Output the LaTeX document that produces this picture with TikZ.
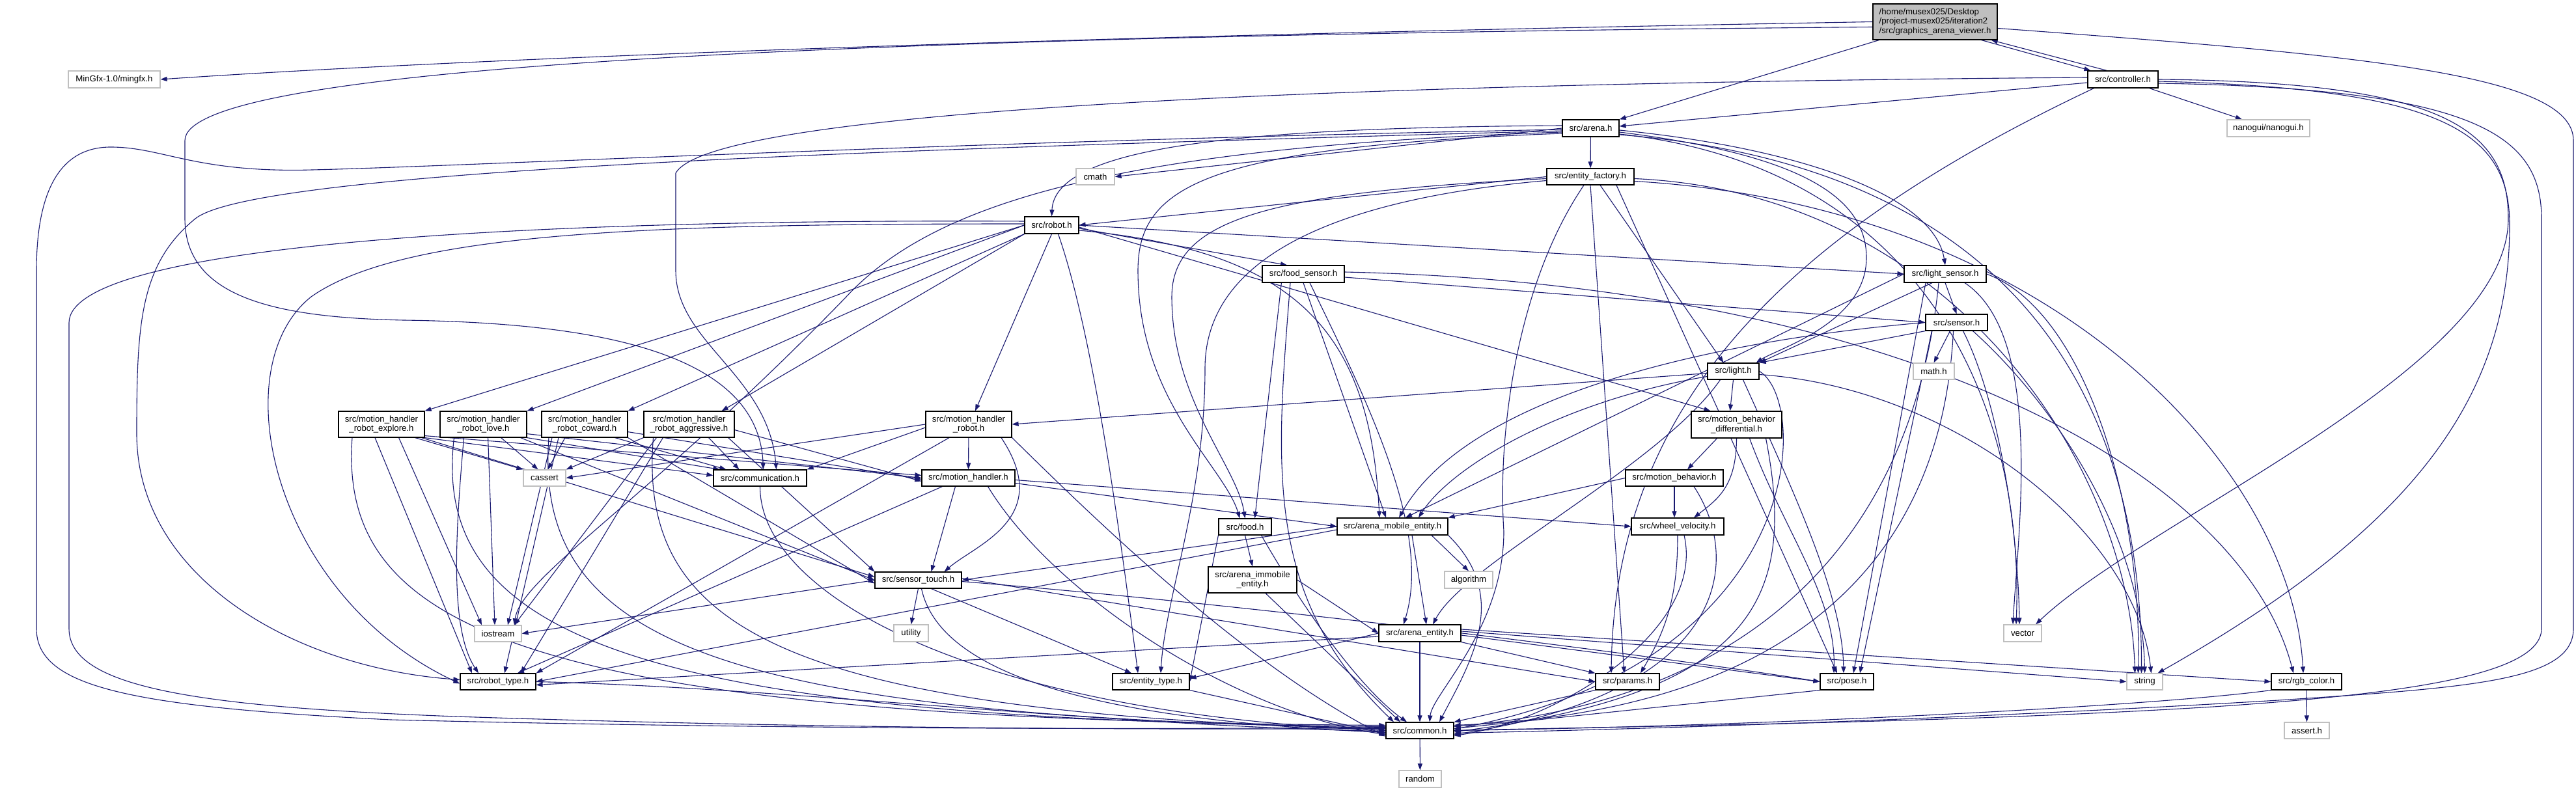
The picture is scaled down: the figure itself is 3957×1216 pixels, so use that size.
\documentclass[tikz,border=0pt]{standalone}
\usepackage{fontspec}
\setmainfont{Liberation Sans}
\usetikzlibrary{arrows.meta,backgrounds}
\definecolor{edgec}{HTML}{191970}
\definecolor{rootfill}{HTML}{BFBFBF}
\definecolor{extb}{HTML}{BFBFBF}
\begin{document}
\begin{tikzpicture}[x=1pt,y=1pt,
 font=\fontsize{13.2}{14.3}\selectfont,
 nd/.style={draw=black, line width=1.2pt, fill=white, rectangle, inner sep=0pt, align=center},
 ext/.style={draw=extb, line width=1.2pt, fill=white, rectangle, inner sep=0pt, align=center},
 e/.style={draw=edgec, line width=1.1pt, -{Triangle[length=10pt,width=7pt]}}]
\useasboundingbox (0,0) rectangle (3957,1216);
% nodes
\node[nd, fill=rootfill, align=left, minimum width=191pt, minimum height=55pt] (G) at (2972.5,1182.5) {/home/musex025/Desktop\\/project-musex025/iteration2\\/src/graphics\_arena\_viewer.h};
\node[ext, minimum width=141pt, minimum height=26pt] (MinGfx) at (175.5,1094) {MinGfx-1.0/mingfx.h};
\node[nd, minimum width=108pt, minimum height=26pt] (C) at (3261,1094) {src/controller.h};
\node[ext, minimum width=127pt, minimum height=26pt] (nanogui) at (3484.5,1019) {nanogui/nanogui.h};
\node[nd, minimum width=87pt, minimum height=26pt] (A) at (2443.5,1019) {src/arena.h};
\node[ext, minimum width=59pt, minimum height=25pt] (cmath) at (1682.5,944.5) {cmath};
\node[nd, minimum width=134pt, minimum height=25pt] (EF) at (2443,944.5) {src/entity\_factory.h};
\node[nd, minimum width=83pt, minimum height=26pt] (R) at (1615.5,870) {src/robot.h};
\node[nd, minimum width=126pt, minimum height=26pt] (FS) at (2002,795) {src/food\_sensor.h};
\node[nd, minimum width=126pt, minimum height=26pt] (LS) at (2988,795) {src/light\_sensor.h};
\node[nd, minimum width=95pt, minimum height=25pt] (S) at (3005.5,720.5) {src/sensor.h};
\node[nd, minimum width=79pt, minimum height=25pt] (L) at (2662.5,645.5) {src/light.h};
\node[ext, minimum width=63pt, minimum height=25pt] (math) at (2970.5,645.5) {math.h};
\node[nd, minimum width=132pt, minimum height=40pt] (ME) at (586,564) {src/motion\_handler\\\_robot\_explore.h};
\node[nd, minimum width=133pt, minimum height=40pt] (ML) at (742.5,564) {src/motion\_handler\\\_robot\_love.h};
\node[nd, minimum width=132pt, minimum height=40pt] (MC) at (898,564) {src/motion\_handler\\\_robot\_coward.h};
\node[nd, minimum width=139pt, minimum height=40pt] (MA) at (1058.5,564) {src/motion\_handler\\\_robot\_aggressive.h};
\node[nd, minimum width=132pt, minimum height=40pt] (MHR) at (1488,564) {src/motion\_handler\\\_robot.h};
\node[nd, minimum width=139pt, minimum height=41pt] (MBD) at (2667.5,563.5) {src/motion\_behavior\\\_differential.h};
\node[ext, minimum width=65pt, minimum height=25pt] (cassert) at (836.5,481.5) {cassert};
\node[nd, minimum width=143pt, minimum height=25pt] (comm) at (1167.5,481.5) {src/communication.h};
\node[nd, minimum width=143pt, minimum height=25pt] (MH) at (1487.5,481.5) {src/motion\_handler.h};
\node[nd, minimum width=150pt, minimum height=25pt] (MB) at (2572,481.5) {src/motion\_behavior.h};
\node[nd, minimum width=170pt, minimum height=26pt] (AME) at (2139,407) {src/arena\_mobile\_entity.h};
\node[nd, minimum width=142pt, minimum height=26pt] (WV) at (2577,407) {src/wheel\_velocity.h};
\node[nd, minimum width=81pt, minimum height=25pt] (F) at (1912.5,406.5) {src/food.h};
\node[nd, minimum width=133pt, minimum height=25pt] (ST) at (1410.5,324.5) {src/sensor\_touch.h};
\node[ext, minimum width=74pt, minimum height=26pt] (alg) at (2256,325) {algorithm};
\node[nd, minimum width=136pt, minimum height=40pt] (AIE) at (1924,325) {src/arena\_immobile\\\_entity.h};
\node[ext, minimum width=53pt, minimum height=26pt] (util) at (1399.5,243) {utility};
\node[ext, minimum width=72pt, minimum height=25pt] (ios) at (765,242.5) {iostream};
\node[nd, minimum width=126pt, minimum height=26pt] (AE) at (2181,243) {src/arena\_entity.h};
\node[ext, minimum width=58pt, minimum height=26pt] (vector) at (3107,243) {vector};
\node[nd, minimum width=116pt, minimum height=25pt] (RT) at (765,168.5) {src/robot\_type.h};
\node[nd, minimum width=118pt, minimum height=25pt] (ET) at (1768,168.5) {src/entity\_type.h};
\node[nd, minimum width=98pt, minimum height=25pt] (params) at (2500,168.5) {src/params.h};
\node[nd, minimum width=82pt, minimum height=25pt] (pose) at (2837,168.5) {src/pose.h};
\node[ext, minimum width=55pt, minimum height=25pt] (string) at (3294.5,168.5) {string};
\node[nd, minimum width=108pt, minimum height=25pt] (rgb) at (3543,168.5) {src/rgb\_color.h};
\node[nd, minimum width=104pt, minimum height=25pt] (common) at (2181,93.5) {src/common.h};
\node[ext, minimum width=69pt, minimum height=25pt] (assert) at (3543.5,93.5) {assert.h};
\node[ext, minimum width=65pt, minimum height=26pt] (random) at (2181.5,19) {random};
\begin{pgfonlayer}{background}
\fill[white] (0,0) rectangle (3957,1216);
% root
\draw[e] (G.west) .. controls (1600,1160) and (700,1125) .. (MinGfx.east);
\draw[e] ([xshift=10pt]G.south west) -- (A.north east);
\draw[e] ([xshift=-25pt]G.south east) -- ([xshift=5pt]C.north west);
\draw[e] ([xshift=30pt]C.north west) -- ([xshift=-10pt]G.south east);
\draw[e] ([yshift=-8pt]G.west) .. controls (1200,1160) and (284,1110) .. (284,1000) -- (284,880) .. controls (284,760) and (420,728) .. (620,724) .. controls (900,720) and (1165,680) .. ([xshift=5pt]comm.north);
\draw[e] ([yshift=-10pt]G.east) .. controls (3650,1130) and (3953,1100) .. (3953,1000) -- (3953,250) .. controls (3953,170) and (3800,160) .. (3500,140) .. controls (3000,110) and (2500,95) .. ([yshift=-4pt]common.east);
% controller
\draw[e] (C) -- (nanogui);
\draw[e] ([yshift=-5pt]C.west) -- ([yshift=3pt]A.east);
\draw[e] ([yshift=3pt]C.west) .. controls (2300,1090) and (1100,1060) .. (1038,950) -- (1038,800) .. controls (1038,690) and (1180,640) .. ([xshift=25pt]comm.north);
\draw[e] ([xshift=10pt]C.south west) .. controls (2750,860) and (2480,600) .. ([xshift=-25pt]params.north);
\draw[e] (C.east) .. controls (3750,1090) and (3853,1020) .. (3853,880) .. controls (3853,650) and (3300,420) .. ([xshift=20pt]vector.north);
\draw[e] ([yshift=-3pt]C.east) .. controls (3760,1080) and (3855,1010) .. (3855,870) .. controls (3855,600) and (3700,400) .. ([xshift=20pt]string.north);
\draw[e] ([yshift=-6pt]C.east) .. controls (3800,1080) and (3904,1010) .. (3904,880) -- (3904,250) .. controls (3904,180) and (3700,150) .. (3400,130) .. controls (3000,105) and (2500,100) .. (common.east);
% arena
\draw[e] (A.west) -- (cmath.east);
\draw[e] (A) -- (EF);
\draw[e] ([yshift=4pt]A.west) .. controls (1900,1020) and (1620,990) .. (R.north);
\draw[e] ([yshift=-3pt]A.east) .. controls (2750,990) and (2970,920) .. (LS.north);
\draw[e] ([yshift=-4pt]A.west) .. controls (1500,990) and (400,960) .. (300,880) .. controls (215,810) and (210,720) .. (210,550) .. controls (210,330) and (450,190) .. ([yshift=3pt]RT.west);
\draw[e] ([yshift=-2pt]A.west) .. controls (1500,1000) and (700,960) .. (480,955) .. controls (300,950) and (250,990) .. (170,990) .. controls (80,990) and (56,900) .. (56,800) -- (56,250) .. controls (56,160) and (200,130) .. (600,110) .. controls (1200,95) and (1800,95) .. ([yshift=5pt]common.west);
\draw[e] ([yshift=-8pt]A.west) .. controls (1850,990) and (1748,930) .. (1748,800) .. controls (1748,600) and (1880,500) .. ([xshift=-8pt]F.north);
\draw[e] ([yshift=-6pt]A.west) .. controls (1700,990) and (1430,900) .. (1300,760) .. controls (1000,450) and (800,330) .. ([xshift=25pt]ios.north);
\draw[e] ([yshift=-6pt]A.east) .. controls (2750,980) and (2867,920) .. (2867,820) .. controls (2867,720) and (2730,680) .. ([xshift=-5pt]L.north east);
\draw[e] ([yshift=-9pt]A.east) .. controls (2950,960) and (3110,600) .. ([xshift=-10pt]vector.north);
\draw[e] ([yshift=-10pt]A.east) .. controls (3100,960) and (3290,600) .. ([xshift=-5pt]string.north);
% entity factory
\draw[e] (EF.west) -- (R.east);
\draw[e] ([yshift=-3pt]EF.west) .. controls (1950,920) and (1800,880) .. (1800,760) .. controls (1800,600) and (1900,500) .. (F.north);
\draw[e] ([yshift=-6pt]EF.west) .. controls (2050,910) and (1851,820) .. (1851,650) .. controls (1851,450) and (1790,300) .. ([xshift=15pt]ET.north);
\draw[e] ([xshift=-10pt]EF.south) .. controls (2330,780) and (2300,550) .. (2310,400) .. controls (2310,250) and (2200,150) .. ([xshift=15pt]common.north);
\draw[e] ([xshift=15pt]EF.south) -- ([xshift=-15pt]L.north);
\draw[e] ([xshift=40pt]EF.south) -- ([xshift=-15pt]pose.north);
\draw[e] (EF.south) -- ([xshift=-5pt]params.north);
\draw[e] ([yshift=-3pt]EF.east) .. controls (3000,920) and (3270,500) .. ([xshift=-15pt]string.north);
\draw[e] ([yshift=-7pt]EF.east) .. controls (3150,900) and (3520,500) .. ([xshift=-5pt]rgb.north);
% robot
\draw[e] (R.west) -- (ME.north east);
\draw[e] (R.west) -- (ML.north east);
\draw[e] (R.south west) -- (MC.north east);
\draw[e] (R.south west) -- ([xshift=-20pt]MA.north east);
\draw[e] (R.south) -- ([xshift=10pt]MHR.north);
\draw[e] ([yshift=-5pt]R.east) -- ([xshift=-25pt]FS.north);
\draw[e] (R.east) -- (LS.west);
\draw[e] ([yshift=-3pt]R.east) -- ([xshift=30pt]MBD.north west);
\draw[e] ([yshift=-8pt]R.east) .. controls (2000,830) and (2105,700) .. ([xshift=-20pt]AME.north);
\draw[e] ([xshift=10pt]R.south) .. controls (1680,700) and (1720,400) .. ([xshift=-20pt]ET.north);
\draw[e] ([yshift=2pt]R.west) .. controls (1000,872) and (620,860) .. (478,760) .. controls (340,650) and (420,300) .. ([yshift=-3pt]RT.west);
\draw[e] ([yshift=6pt]R.west) .. controls (800,880) and (106,840) .. (106,720) -- (106,250) .. controls (106,160) and (300,130) .. (700,115) .. controls (1300,95) and (1800,95) .. ([yshift=3pt]common.west);
% food sensor
\draw[e] ([yshift=-5pt]FS.east) -- (S.west);
\draw[e] ([xshift=30pt]FS.south west) -- ([xshift=15pt]F.north);
\draw[e] (FS.south) -- ([xshift=-10pt]AME.north);
\draw[e] ([xshift=10pt]FS.south) .. controls (2100,600) and (2200,400) .. ([xshift=-25pt]AE.north);
\draw[e] ([xshift=-20pt]FS.south) .. controls (1960,500) and (1940,300) .. ([xshift=-40pt]common.north);
\draw[e] ([yshift=3pt]FS.east) .. controls (2900,780) and (3440,500) .. ([xshift=-20pt]rgb.north);
% light sensor
\draw[e] (LS.south) -- (S.north);
\draw[e] ([xshift=-20pt]LS.south) -- (L.north east);
\draw[e] (LS.west) -- ([xshift=20pt]AME.north);
\draw[e] ([xshift=-10pt]LS.south) .. controls (2950,500) and (2800,150) .. ([yshift=6pt]common.east);
\draw[e] ([xshift=30pt]LS.south) .. controls (3140,700) and (3100,400) .. ([xshift=-15pt]vector.north);
\draw[e] (LS.east) .. controls (3200,740) and (3290,450) .. ([xshift=-10pt]string.north);
\draw[e] ([xshift=-30pt]LS.south) -- ([xshift=10pt]pose.north);
% sensor
\draw[e] ([xshift=-10pt]S.south) -- (math.north);
\draw[e] (S.south west) -- (L.north east);
\draw[e] (S.west) .. controls (2600,690) and (2250,600) .. ([xshift=10pt]AME.north);
\draw[e] ([xshift=10pt]S.south) .. controls (3070,600) and (3100,400) .. ([xshift=-5pt]vector.north);
\draw[e] ([xshift=25pt]S.south) .. controls (3150,600) and (3290,400) .. (string.north);
\draw[e] ([xshift=-5pt]S.south) .. controls (2990,500) and (2900,130) .. ([yshift=8pt]common.east);
\draw[e] ([xshift=10pt]S.south west) -- ([xshift=20pt]pose.north);
% light
\draw[e] (L.south) -- ([xshift=-10pt]MBD.north);
\draw[e] ([yshift=-3pt]L.west) -- (MHR.east);
\draw[e] ([yshift=-8pt]L.west) .. controls (2400,600) and (2230,500) .. ([xshift=40pt]AME.north);
\draw[e] ([xshift=-20pt]L.south) .. controls (2550,500) and (2250,350) .. ([xshift=20pt]AE.north);
\draw[e] ([xshift=15pt]L.south) .. controls (2760,450) and (2830,300) .. ([xshift=-5pt]pose.north);
\draw[e] (L.east) .. controls (2780,600) and (2780,200) .. ([yshift=2pt]common.east);
\draw[e] ([yshift=-5pt]L.east) .. controls (3000,620) and (3280,400) .. ([xshift=10pt]string.north);
% motion behavior differential
\draw[e] ([xshift=-30pt]MBD.south) -- ([xshift=20pt]MB.north);
\draw[e] (MBD.south) .. controls (2667,470) and (2640,450) .. ([xshift=25pt]WV.north);
\draw[e] ([xshift=20pt]MBD.south) .. controls (2740,400) and (2820,300) .. ([xshift=-20pt]pose.north);
\draw[e] ([xshift=45pt]MBD.south) .. controls (2760,300) and (2700,150) .. ([yshift=-2pt]common.east);
% motion behavior
\draw[e] (MB.west) -- (AME.north east);
\draw[e] (MB.south) -- ([xshift=-5pt]WV.north);
\draw[e] ([xshift=30pt]MB.south) .. controls (2680,350) and (2650,150) .. ([yshift=-6pt]common.east);
% wheel velocity
\draw[e] (WV.south) .. controls (2577,300) and (2560,250) .. ([xshift=20pt]params.north);
\draw[e] ([xshift=10pt]WV.south) .. controls (2620,250) and (2400,110) .. ([yshift=-8pt]common.east);
% arena mobile entity
\draw[e] (AME.west) -- (ST.east);
\draw[e] ([xshift=30pt]AME.south) -- ([xshift=10pt]AE.north);
\draw[e] ([xshift=60pt]AME.south) -- (alg.north);
\draw[e] ([yshift=-5pt]AME.west) -- (RT.east);
\draw[e] (AME.south east) .. controls (2320,300) and (2260,200) .. ([xshift=30pt]common.north);
% food
\draw[e] (F.south) -- (AIE.north);
\draw[e] (F.south west) -- (ET.east);
\draw[e] ([xshift=25pt]F.south) .. controls (2020,250) and (2100,150) .. ([xshift=-20pt]common.north);
% arena immobile entity
\draw[e] (AIE.east) -- (AE.west);
\draw[e] ([xshift=20pt]AIE.south) -- ([xshift=-30pt]common.north);
% arena entity
\draw[e] (AE.south) -- (common.north);
\draw[e] (AE.west) -- ([yshift=5pt]ET.east);
\draw[e] ([yshift=-5pt]AE.west) -- ([yshift=-5pt]RT.east);
\draw[e] (AE.south east) -- (params.north west);
\draw[e] ([yshift=-3pt]AE.east) -- (pose.west);
\draw[e] ([yshift=3pt]AE.east) -- (string.west);
\draw[e] ([yshift=6pt]AE.east) -- (rgb.west);
% sensor touch
\draw[e] (ST.south) -- (util.north);
\draw[e] (ST.west) -- (ios.east);
\draw[e] ([xshift=20pt]ST.south) -- ([xshift=-30pt]ET.north);
\draw[e] ([xshift=5pt]ST.south) .. controls (1450,150) and (1800,105) .. ([yshift=-3pt]common.west);
\draw[e] ([yshift=3pt]ST.east) -- (params.west);
\draw[e] ([yshift=-2pt]ST.east) .. controls (2000,280) and (2600,200) .. (pose.west);
% motion handler
\draw[e] ([xshift=-20pt]MH.south) -- ([xshift=20pt]ST.north);
\draw[e] ([yshift=-3pt]MH.east) -- (WV.west);
\draw[e] ([yshift=-8pt]MH.east) -- (AME.west);
\draw[e] ([xshift=-40pt]MH.south) -- ([xshift=30pt]RT.north);
\draw[e] ([xshift=30pt]MH.south) .. controls (1620,300) and (1900,120) .. ([yshift=-6pt]common.west);
% motion handler robot
\draw[e] (MHR) -- (MH);
\draw[e] ([yshift=-5pt]MHR.west) -- (comm.north east);
\draw[e] (MHR.west) -- (cassert.east);
\draw[e] ([xshift=-30pt]MHR.south) -- (RT.north east);
\draw[e] ([xshift=50pt]MHR.south) .. controls (1620,420) and (1500,380) .. ([xshift=40pt]ST.north);
\draw[e] (MHR.south east) .. controls (1650,450) and (1900,200) .. ([yshift=-9pt]common.west);
% explore
\draw[e] ([yshift=3pt]ME.south east) -- ([yshift=4pt]MH.west);
\draw[e] (ME.south east) -- ([yshift=4pt]comm.west);
\draw[e] ([xshift=-15pt]ME.south east) -- (cassert.north west);
\draw[e] ([xshift=-40pt]ME.south east) -- ([xshift=-25pt]ios.north);
\draw[e] ([xshift=-10pt]ME.south) -- ([xshift=-40pt]RT.north);
\draw[e] ([xshift=-5pt]ME.south east) -- ([yshift=5pt]ST.west);
\draw[e] ([xshift=-45pt]ME.south) .. controls (520,250) and (800,110) .. ([yshift=8pt]common.west);
% love
\draw[e] ([yshift=6pt]ML.south east) -- (MH.west);
\draw[e] (ML.south east) -- ([xshift=10pt]comm.north west);
\draw[e] ([xshift=-40pt]ML.south east) -- ([xshift=-10pt]cassert.north);
\draw[e] ([xshift=-60pt]ML.south east) -- ([xshift=-5pt]ios.north);
\draw[e] ([xshift=-30pt]ML.south) .. controls (700,400) and (690,250) .. ([xshift=-30pt]RT.north);
\draw[e] ([xshift=-10pt]ML.south east) -- (ST.west);
\draw[e] ([xshift=-45pt]ML.south) .. controls (660,230) and (1000,110) .. ([yshift=6pt]common.west);
% coward
\draw[e] ([yshift=9pt]MC.south east) -- ([yshift=-2pt]MH.west);
\draw[e] ([xshift=-20pt]MC.south east) -- ([xshift=20pt]comm.north west);
\draw[e] ([xshift=-30pt]MC.south) -- ([xshift=5pt]cassert.north);
\draw[e] ([xshift=-50pt]MC.south) -- ([xshift=15pt]ios.north);
\draw[e] ([xshift=-40pt]MC.south) -- ([xshift=10pt]RT.north);
\draw[e] (MC.south east) -- ([yshift=-5pt]ST.west);
\draw[e] ([xshift=-55pt]MC.south) .. controls (820,230) and (1100,115) .. ([yshift=4pt]common.west);
% aggressive
\draw[e] ([yshift=12pt]MA.south east) -- ([yshift=-5pt]MH.west);
\draw[e] ([xshift=-40pt]MA.south east) -- ([xshift=40pt]comm.north west);
\draw[e] (MA.south west) -- (cassert.north east);
\draw[e] ([xshift=20pt]MA.south west) -- ([xshift=25pt]ios.north);
\draw[e] ([xshift=30pt]MA.south west) -- ([xshift=35pt]RT.north);
\draw[e] ([xshift=-10pt]MA.south east) -- (ST.north west);
\draw[e] ([xshift=-55pt]MA.south) .. controls (980,250) and (1200,120) .. ([yshift=2pt]common.west);
% lower level
\draw[e] (comm.south) .. controls (1167,300) and (1500,120) .. (common.west);
\draw[e] (RT.east) .. controls (1200,160) and (1700,100) .. ([yshift=-1pt]common.west);
\draw[e] (ET.south east) -- ([yshift=-5pt]common.west);
\draw[e] (params.south west) -- (common.north east);
\draw[e] (pose.south west) -- ([yshift=3pt]common.east);
\draw[e] (rgb.south west) .. controls (3300,130) and (2700,100) .. (common.east);
\draw[e] (rgb) -- (assert);
\draw[e] (common) -- (random);
\end{pgfonlayer}
\end{tikzpicture}
\end{document}
